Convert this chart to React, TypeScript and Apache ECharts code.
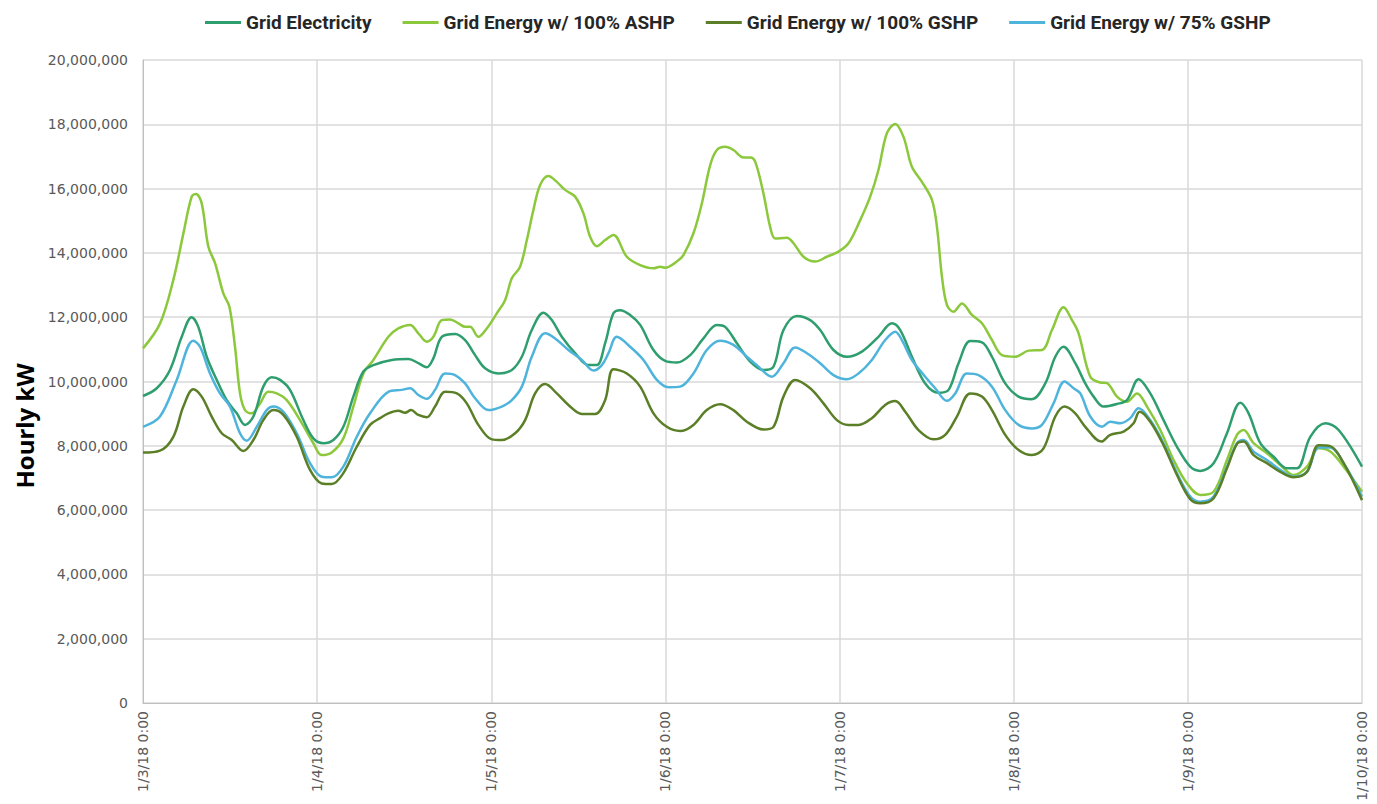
import React, { useEffect, useRef } from "react";
import * as echarts from "echarts";

// Hours since 1/3/18 0:00 and values in millions of kW.
const gridHours = [0, 1.89, 3.72, 5.34, 6.71, 7.62, 8.78, 10.16, 11.54, 12.92, 14.06, 15.21, 16.58, 17.74, 18.89, 20.26, 22.1, 23.48, 24.86, 26.23, 27.61, 28.99, 30.37, 31.75, 34.28, 36.57, 37.95, 39.11, 40.02, 41.18, 43.01, 44.39, 45.77, 47.15, 48.98, 50.83, 52.21, 53.58, 55.18, 56.34, 57.72, 59.55, 61.39, 62.55, 63.69, 64.83, 65.76, 67.13, 68.52, 70.35, 71.96, 73.57, 75.41, 77.24, 79.09, 80.23, 81.85, 83.68, 85.51, 86.89, 88.27, 90.11, 91.95, 93.33, 95.16, 97.01, 99.08, 101.36, 103.21, 104.36, 105.97, 107.8, 109.64, 111.02, 112.4, 114.01, 115.62, 117.0, 118.83, 120.67, 122.51, 124.35, 125.73, 126.87, 128.48, 129.86, 131.01, 132.39, 134.23, 135.61, 137.21, 138.82, 140.65, 142.5, 144.33, 145.71, 147.55, 149.39, 151.23, 152.37, 153.99, 155.82, 157.66, 159.04, 160.87, 162.94, 164.78, 168];
const gridValues = [9.55, 9.79, 10.36, 11.39, 12.0, 11.7, 10.77, 10.05, 9.42, 9.01, 8.65, 8.91, 9.84, 10.13, 10.05, 9.74, 8.8, 8.23, 8.08, 8.18, 8.59, 9.53, 10.31, 10.51, 10.67, 10.7, 10.57, 10.44, 10.72, 11.39, 11.48, 11.29, 10.82, 10.41, 10.25, 10.36, 10.77, 11.6, 12.14, 11.91, 11.39, 10.88, 10.51, 10.51, 11.19, 12.12, 12.22, 12.07, 11.76, 10.98, 10.64, 10.59, 10.82, 11.34, 11.76, 11.7, 11.19, 10.62, 10.36, 10.46, 11.6, 12.04, 11.91, 11.6, 10.98, 10.77, 10.93, 11.39, 11.81, 11.6, 10.77, 9.94, 9.65, 9.74, 10.57, 11.26, 11.22, 10.77, 9.94, 9.53, 9.45, 9.94, 10.77, 11.08, 10.57, 9.94, 9.53, 9.22, 9.3, 9.42, 10.07, 9.63, 8.8, 7.97, 7.35, 7.22, 7.46, 8.39, 9.34, 9.01, 8.08, 7.66, 7.3, 7.3, 8.28, 8.7, 8.49, 7.35];

const ashpHours = [0, 2.34, 4.18, 5.56, 6.71, 7.31, 8.09, 9.0, 9.93, 11.07, 11.9, 12.68, 13.37, 14.06, 14.98, 16.13, 17.27, 18.43, 19.81, 21.64, 23.48, 24.63, 26.01, 27.61, 28.99, 30.37, 31.75, 33.82, 35.19, 36.81, 37.95, 39.11, 40.02, 41.18, 42.32, 43.47, 44.39, 45.08, 46.22, 47.38, 48.76, 49.9, 50.83, 51.97, 52.9, 53.8, 54.73, 55.87, 57.03, 58.17, 59.55, 60.7, 61.62, 62.55, 63.69, 64.83, 66.68, 68.52, 70.35, 71.27, 71.96, 73.57, 74.48, 75.86, 77.02, 78.17, 79.09, 80.23, 81.38, 82.75, 83.68, 84.37, 85.51, 86.43, 87.12, 88.74, 89.65, 91.03, 92.64, 94.25, 95.85, 97.23, 98.84, 100.22, 101.36, 102.52, 103.67, 104.81, 105.97, 107.35, 108.73, 109.42, 110.11, 110.8, 111.71, 112.86, 114.24, 115.62, 117.0, 118.38, 120.21, 122.05, 123.89, 125.27, 126.87, 128.03, 128.94, 130.55, 131.93, 132.85, 134.23, 135.61, 136.99, 138.37, 140.2, 142.03, 143.88, 145.71, 147.55, 149.39, 150.77, 151.68, 153.06, 154.9, 156.74, 158.57, 160.42, 162.02, 163.63, 165.47, 168];
const ashpValues = [11.03, 11.8, 13.16, 14.6, 15.75, 15.83, 15.54, 14.2, 13.68, 12.74, 12.33, 11.08, 9.63, 9.11, 9.01, 9.32, 9.68, 9.63, 9.42, 8.8, 8.08, 7.71, 7.79, 8.23, 9.22, 10.25, 10.67, 11.39, 11.65, 11.76, 11.5, 11.24, 11.39, 11.91, 11.93, 11.81, 11.7, 11.7, 11.39, 11.65, 12.12, 12.53, 13.21, 13.57, 14.4, 15.33, 16.11, 16.39, 16.21, 15.96, 15.75, 15.23, 14.5, 14.21, 14.4, 14.56, 13.88, 13.62, 13.52, 13.57, 13.54, 13.73, 13.93, 14.61, 15.54, 16.73, 17.2, 17.3, 17.2, 16.97, 16.97, 16.84, 15.85, 14.81, 14.45, 14.47, 14.3, 13.88, 13.73, 13.88, 14.04, 14.3, 15.02, 15.75, 16.58, 17.72, 18.01, 17.61, 16.68, 16.21, 15.65, 14.81, 13.26, 12.38, 12.17, 12.43, 12.07, 11.81, 11.29, 10.82, 10.77, 10.96, 10.98, 11.6, 12.31, 11.91, 11.5, 10.15, 9.97, 9.95, 9.53, 9.37, 9.63, 9.22, 8.49, 7.56, 6.83, 6.47, 6.57, 7.56, 8.34, 8.49, 8.08, 7.77, 7.4, 7.09, 7.35, 7.92, 7.82, 7.35, 6.57];

const gshpHours = [0, 2.34, 4.18, 5.56, 6.93, 8.09, 9.47, 10.85, 12.23, 13.83, 15.21, 16.58, 17.96, 19.34, 21.19, 23.02, 24.63, 26.01, 27.61, 29.46, 31.29, 32.67, 33.82, 35.19, 36.12, 36.95, 37.95, 39.11, 40.25, 41.63, 43.25, 44.62, 46.22, 48.07, 49.45, 51.28, 52.66, 54.04, 55.42, 57.03, 58.63, 60.48, 62.31, 63.69, 64.83, 66.68, 68.52, 70.35, 72.19, 74.03, 75.86, 77.7, 79.53, 81.37, 83.22, 85.51, 86.89, 88.27, 89.88, 91.95, 93.78, 95.63, 97.23, 98.61, 100.45, 102.29, 103.67, 105.05, 106.88, 108.95, 110.56, 112.17, 114.01, 115.62, 117.0, 118.83, 120.67, 122.51, 124.11, 125.73, 127.01, 128.48, 129.86, 132.09, 133.31, 135.14, 136.52, 137.35, 138.82, 140.65, 142.5, 144.33, 145.71, 147.55, 149.39, 150.77, 151.68, 153.06, 154.9, 156.74, 158.57, 160.42, 162.02, 163.63, 165.47, 168];
const gshpValues = [7.79, 7.85, 8.28, 9.22, 9.76, 9.53, 8.91, 8.39, 8.18, 7.84, 8.18, 8.8, 9.11, 8.96, 8.28, 7.25, 6.83, 6.81, 7.15, 7.97, 8.65, 8.86, 9.01, 9.09, 9.03, 9.11, 8.96, 8.89, 9.22, 9.68, 9.63, 9.32, 8.65, 8.2, 8.18, 8.39, 8.8, 9.63, 9.92, 9.63, 9.27, 8.99, 8.99, 9.42, 10.38, 10.25, 9.84, 9.01, 8.59, 8.46, 8.65, 9.11, 9.29, 9.11, 8.75, 8.51, 8.59, 9.53, 10.05, 9.79, 9.32, 8.8, 8.65, 8.65, 8.86, 9.27, 9.39, 9.06, 8.49, 8.2, 8.34, 8.91, 9.63, 9.53, 9.11, 8.34, 7.87, 7.71, 7.92, 8.91, 9.22, 9.01, 8.59, 8.13, 8.34, 8.44, 8.7, 9.06, 8.75, 8.02, 7.09, 6.34, 6.21, 6.37, 7.3, 8.06, 8.13, 7.71, 7.46, 7.19, 7.02, 7.19, 8.02, 7.99, 7.46, 6.31];

const gshp75Hours = [0, 2.34, 4.65, 6.93, 7.86, 9.24, 10.61, 11.99, 13.37, 14.3, 15.67, 17.05, 17.96, 19.34, 21.19, 23.02, 24.63, 26.01, 27.61, 29.46, 31.29, 33.82, 35.66, 36.81, 37.95, 39.11, 40.25, 41.63, 43.01, 44.39, 45.77, 47.6, 49.45, 50.83, 52.21, 53.58, 55.42, 56.8, 58.63, 60.48, 62.08, 63.23, 64.15, 65.3, 67.13, 68.97, 70.82, 72.42, 74.03, 75.86, 77.7, 79.53, 81.37, 83.22, 84.6, 86.67, 88.27, 89.88, 91.5, 93.33, 95.16, 97.01, 98.61, 100.45, 102.29, 103.67, 104.59, 105.97, 107.8, 109.18, 110.79, 111.94, 113.55, 115.15, 117.0, 118.83, 120.67, 122.51, 123.89, 125.49, 127.01, 128.25, 129.18, 130.55, 132.16, 133.31, 134.69, 136.07, 137.21, 138.82, 140.65, 142.5, 144.33, 145.71, 147.55, 149.39, 150.77, 151.68, 153.06, 154.9, 156.74, 158.57, 160.42, 162.02, 163.63, 165.47, 168];
const gshp75Values = [8.59, 8.91, 10.05, 11.27, 11.08, 10.25, 9.63, 9.22, 8.39, 8.16, 8.59, 9.11, 9.22, 9.06, 8.39, 7.46, 7.04, 7.02, 7.35, 8.28, 9.01, 9.68, 9.74, 9.79, 9.58, 9.46, 9.74, 10.25, 10.2, 9.94, 9.48, 9.11, 9.22, 9.42, 9.84, 10.77, 11.5, 11.34, 10.98, 10.67, 10.34, 10.51, 10.88, 11.39, 11.08, 10.67, 10.05, 9.82, 9.84, 10.25, 10.98, 11.27, 11.14, 10.77, 10.51, 10.15, 10.57, 11.06, 10.88, 10.57, 10.2, 10.07, 10.25, 10.67, 11.29, 11.55, 11.29, 10.67, 10.15, 9.79, 9.4, 9.63, 10.25, 10.2, 9.84, 9.11, 8.65, 8.54, 8.65, 9.32, 10.0, 9.79, 9.63, 8.91, 8.59, 8.75, 8.7, 8.86, 9.17, 8.8, 8.08, 7.15, 6.42, 6.26, 6.42, 7.35, 8.08, 8.18, 7.82, 7.56, 7.25, 7.04, 7.19, 7.95, 7.95, 7.46, 6.42];

const seriesNames = [
  "Grid Electricity",
  "Grid Energy w/ 100% ASHP",
  "Grid Energy w/ 100% GSHP",
  "Grid Energy w/ 75% GSHP",
];
const seriesColors = ["#2f9e6e", "#8cc83c", "#5b7f27", "#4fb4dc"];
const dayLabels = ["1/3/18 0:00", "1/4/18 0:00", "1/5/18 0:00", "1/6/18 0:00", "1/7/18 0:00", "1/8/18 0:00", "1/9/18 0:00", "1/10/18 0:00"];
const yMax = 20000000;
const yStep = 2000000;
const yTitle = "Hourly kW";

const zip = (hs: number[], vs: number[]) => hs.map((h, i) => [h, Math.round(vs[i] * 1000000)]);

export default function App() {
  const ref = useRef<HTMLDivElement>(null);
  useEffect(() => {
    if (!ref.current) return;
    const chart = echarts.init(ref.current, null, { renderer: "svg" });
    const datasets = [
      zip(gridHours, gridValues),
      zip(ashpHours, ashpValues),
      zip(gshpHours, gshpValues),
      zip(gshp75Hours, gshp75Values),
    ];
    const order = [1, 0, 3, 2];
    chart.setOption({
      animation: false,
      backgroundColor: "#ffffff",
      legend: {
        data: seriesNames.map((n, i) => ({ name: n, itemStyle: { color: seriesColors[i] } })),
        left: 200,
        top: 8,
        icon: "rect",
        itemWidth: 36,
        itemHeight: 3,
        itemGap: 31,
        textStyle: { fontFamily: "Roboto", fontWeight: "bold", fontSize: 19, color: "#262626" },
      },
      graphic: [
        {
          type: "text",
          x: 24,
          y: 426,
          rotation: Math.PI / 2,
          style: {
            text: yTitle,
            fontFamily: "Open Sans",
            fontWeight: "bold",
            fontSize: 24,
            fill: "#000000",
            align: "center",
            verticalAlign: "middle",
          },
        },
      ],
      grid: { left: 143, right: 15, top: 60, bottom: 101, containLabel: false },
      xAxis: {
        type: "value",
        min: 0,
        max: 168,
        interval: 24,
        axisLine: { show: true, lineStyle: { color: "#bfbfbf", width: 1 } },
        axisTick: { show: false },
        splitLine: { show: true, lineStyle: { color: "#d9d9d9", width: 1.5 } },
        axisLabel: {
          rotate: 90,
          margin: 8,
          showMaxLabel: true,
          showMinLabel: true,
          color: "#595959",
          fontFamily: "DejaVu Sans",
          fontSize: 14,
          formatter: (v: number) => dayLabels[Math.round(v / 24)] ?? "",
        },
      },
      yAxis: {
        type: "value",
        min: 0,
        max: yMax,
        interval: yStep,
        axisLine: { show: true, lineStyle: { color: "#bfbfbf", width: 1 } },
        axisTick: { show: false },
        splitLine: { show: true, lineStyle: { color: "#d9d9d9", width: 1.5 } },
        axisLabel: {
          margin: 15,
          color: "#595959",
          fontFamily: "DejaVu Sans",
          fontSize: 14,
          formatter: (v: number) => v.toLocaleString("en-US"),
        },
      },
      series: order.map((i) => ({
        name: seriesNames[i],
        type: "line",
        data: datasets[i],
        smooth: 0.35,
        showSymbol: false,
        symbol: "none",
        lineStyle: { color: seriesColors[i], width: 2.5 },
        itemStyle: { color: seriesColors[i] },
      })),
    });
    return () => chart.dispose();
  }, []);
  return <div ref={ref} style={{ width: 1377, height: 804, position: "absolute", left: 0, top: 0 }} />;
}
